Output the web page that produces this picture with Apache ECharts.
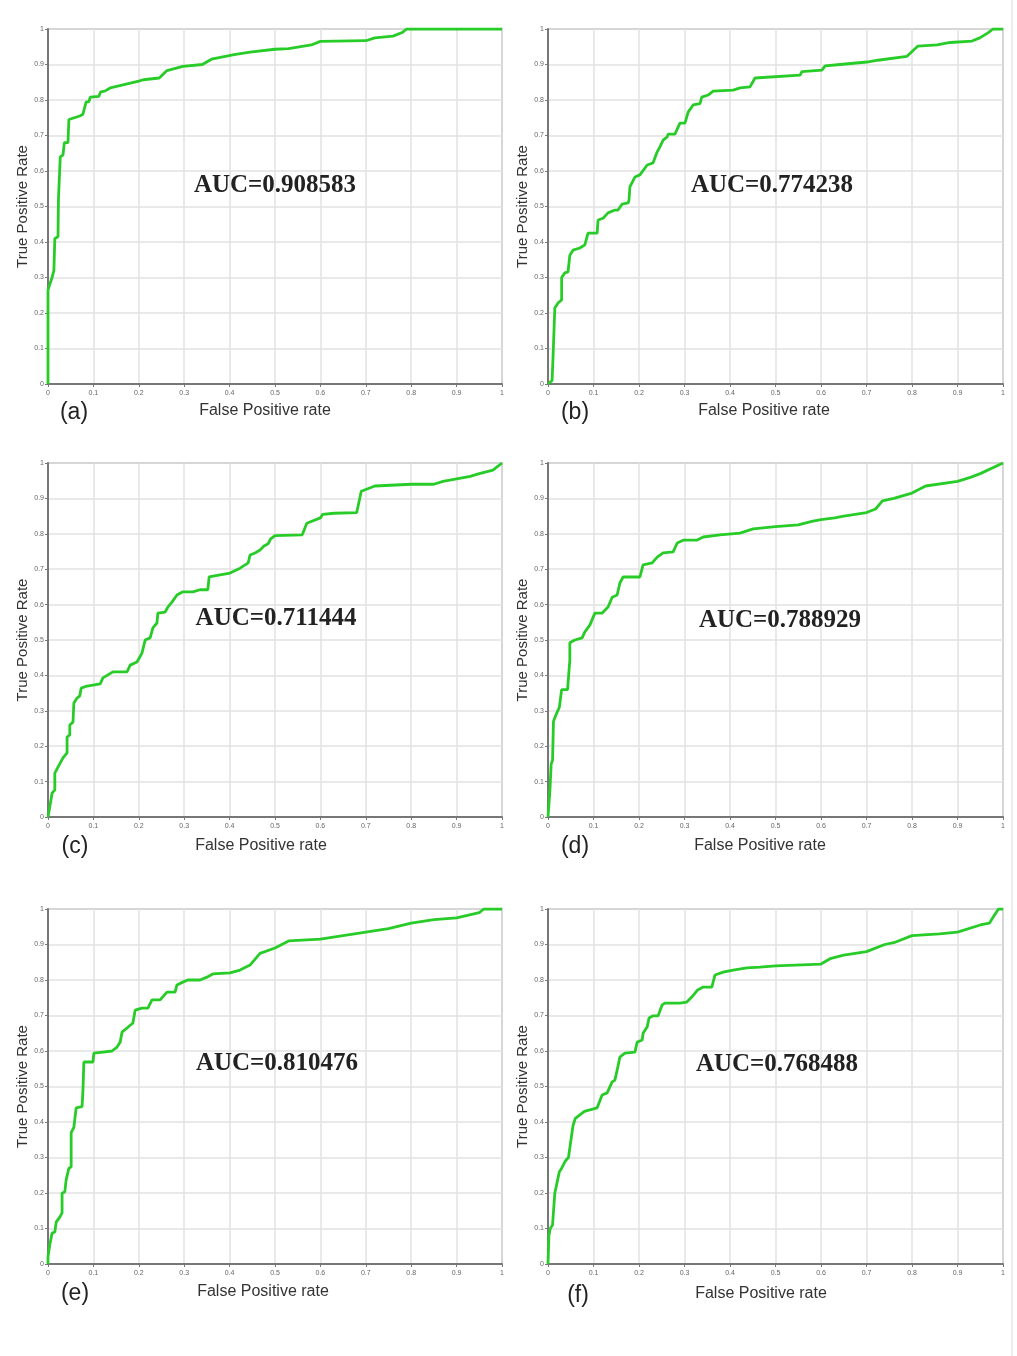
<!DOCTYPE html>
<html>
<head>
<meta charset="utf-8">
<script src="https://cdn.jsdelivr.net/npm/echarts@6/dist/echarts.min.js"></script>
<style>
  html, body { margin: 0; padding: 0; background: #fff; }
  #chart { width: 1017px; height: 1356px; }
</style>
</head>
<body>
<div id="chart"></div>
<script>
// ROC points [FPR, TPR]
var rocA = [[0,0],[0,0.265],[0.009,0.3],[0.013,0.32],[0.015,0.41],[0.022,0.415],[0.023,0.52],[0.026,0.52],[0.027,0.64],[0.033,0.645],[0.036,0.68],[0.044,0.68],[0.046,0.745],[0.07,0.755],[0.077,0.76],[0.084,0.795],[0.09,0.795],[0.093,0.808],[0.112,0.81],[0.116,0.823],[0.125,0.825],[0.137,0.834],[0.2,0.853],[0.21,0.857],[0.245,0.862],[0.262,0.883],[0.297,0.895],[0.34,0.9],[0.36,0.915],[0.41,0.928],[0.445,0.935],[0.5,0.943],[0.53,0.945],[0.58,0.955],[0.6,0.965],[0.7,0.967],[0.72,0.975],[0.76,0.98],[0.78,0.99],[0.79,1],[1,1]];
var rocB = [[0,0],[0.009,0.01],[0.011,0.073],[0.015,0.076],[0.015,0.214],[0.022,0.228],[0.03,0.237],[0.03,0.3],[0.037,0.313],[0.044,0.316],[0.048,0.363],[0.055,0.377],[0.07,0.383],[0.081,0.392],[0.088,0.425],[0.108,0.425],[0.11,0.462],[0.121,0.467],[0.132,0.482],[0.147,0.49],[0.154,0.49],[0.163,0.507],[0.176,0.51],[0.178,0.518],[0.18,0.555],[0.191,0.583],[0.202,0.589],[0.218,0.617],[0.231,0.623],[0.24,0.654],[0.246,0.668],[0.253,0.687],[0.262,0.696],[0.264,0.704],[0.279,0.704],[0.29,0.735],[0.301,0.735],[0.308,0.766],[0.319,0.786],[0.334,0.79],[0.338,0.808],[0.352,0.814],[0.363,0.825],[0.407,0.828],[0.422,0.834],[0.444,0.837],[0.455,0.862],[0.554,0.87],[0.558,0.88],[0.602,0.884],[0.609,0.896],[0.642,0.9],[0.701,0.907],[0.725,0.912],[0.789,0.923],[0.813,0.952],[0.855,0.955],[0.884,0.962],[0.932,0.966],[0.949,0.975],[0.967,0.989],[0.978,1],[1,1]];
var rocC = [[0,0],[0.004,0.028],[0.009,0.068],[0.015,0.076],[0.015,0.124],[0.022,0.141],[0.033,0.167],[0.042,0.181],[0.042,0.226],[0.048,0.232],[0.048,0.26],[0.055,0.268],[0.057,0.322],[0.064,0.336],[0.07,0.342],[0.073,0.364],[0.086,0.37],[0.115,0.376],[0.121,0.393],[0.143,0.41],[0.174,0.41],[0.181,0.429],[0.196,0.438],[0.207,0.463],[0.214,0.5],[0.225,0.506],[0.231,0.534],[0.24,0.548],[0.242,0.576],[0.258,0.579],[0.264,0.593],[0.273,0.607],[0.284,0.627],[0.297,0.636],[0.319,0.636],[0.335,0.642],[0.352,0.642],[0.355,0.678],[0.379,0.684],[0.401,0.689],[0.423,0.703],[0.441,0.718],[0.445,0.74],[0.456,0.746],[0.467,0.754],[0.475,0.765],[0.485,0.772],[0.49,0.785],[0.5,0.795],[0.56,0.797],[0.57,0.83],[0.6,0.845],[0.605,0.855],[0.63,0.858],[0.68,0.86],[0.69,0.92],[0.7,0.925],[0.72,0.935],[0.8,0.94],[0.85,0.94],[0.87,0.948],[0.9,0.955],[0.93,0.962],[0.95,0.97],[0.98,0.98],[1,1]];
var rocD = [[0,0],[0.004,0.07],[0.007,0.15],[0.01,0.16],[0.012,0.27],[0.018,0.29],[0.025,0.31],[0.03,0.36],[0.043,0.36],[0.048,0.444],[0.048,0.492],[0.059,0.5],[0.075,0.506],[0.081,0.523],[0.092,0.542],[0.103,0.576],[0.119,0.576],[0.132,0.593],[0.141,0.621],[0.152,0.627],[0.158,0.661],[0.165,0.678],[0.202,0.678],[0.209,0.712],[0.229,0.718],[0.24,0.734],[0.253,0.746],[0.275,0.749],[0.284,0.774],[0.297,0.782],[0.327,0.782],[0.341,0.791],[0.378,0.797],[0.422,0.802],[0.451,0.814],[0.5,0.82],[0.55,0.825],[0.58,0.835],[0.6,0.84],[0.63,0.845],[0.65,0.85],[0.7,0.86],[0.72,0.87],[0.735,0.893],[0.76,0.9],[0.8,0.915],[0.83,0.935],[0.9,0.948],[0.93,0.96],[0.95,0.97],[1,1]];
var rocE = [[0,0],[0,0.02],[0.004,0.054],[0.009,0.087],[0.015,0.09],[0.018,0.118],[0.026,0.132],[0.031,0.144],[0.031,0.2],[0.037,0.203],[0.04,0.237],[0.044,0.242],[0.046,0.27],[0.051,0.273],[0.051,0.37],[0.057,0.385],[0.062,0.44],[0.075,0.443],[0.077,0.49],[0.079,0.569],[0.099,0.569],[0.101,0.594],[0.121,0.597],[0.141,0.6],[0.152,0.611],[0.159,0.625],[0.163,0.653],[0.176,0.667],[0.187,0.679],[0.192,0.715],[0.207,0.721],[0.22,0.721],[0.229,0.744],[0.247,0.744],[0.262,0.766],[0.28,0.766],[0.284,0.786],[0.297,0.794],[0.308,0.8],[0.335,0.8],[0.35,0.808],[0.363,0.817],[0.401,0.82],[0.423,0.828],[0.445,0.842],[0.467,0.875],[0.5,0.89],[0.53,0.91],[0.6,0.915],[0.65,0.925],[0.7,0.935],[0.75,0.945],[0.8,0.96],[0.85,0.97],[0.9,0.975],[0.95,0.99],[0.96,1],[1,1]];
var rocF = [[0,0],[0.002,0.08],[0.005,0.1],[0.01,0.11],[0.015,0.2],[0.02,0.23],[0.025,0.26],[0.03,0.27],[0.038,0.29],[0.045,0.3],[0.055,0.39],[0.06,0.41],[0.07,0.42],[0.08,0.43],[0.092,0.434],[0.108,0.44],[0.119,0.476],[0.13,0.482],[0.141,0.513],[0.147,0.518],[0.152,0.546],[0.158,0.583],[0.169,0.594],[0.191,0.597],[0.196,0.625],[0.207,0.631],[0.209,0.65],[0.218,0.668],[0.222,0.693],[0.231,0.699],[0.242,0.699],[0.251,0.73],[0.257,0.735],[0.29,0.735],[0.305,0.738],[0.316,0.752],[0.329,0.772],[0.341,0.78],[0.36,0.78],[0.367,0.814],[0.385,0.822],[0.407,0.828],[0.437,0.834],[0.466,0.836],[0.5,0.84],[0.6,0.845],[0.62,0.86],[0.65,0.87],[0.7,0.88],[0.74,0.9],[0.76,0.905],[0.8,0.925],[0.86,0.93],[0.9,0.935],[0.95,0.955],[0.97,0.96],[0.98,0.98],[0.99,1],[1,1]];

var aucText = ['AUC=0.908583','AUC=0.774238','AUC=0.711444','AUC=0.788929','AUC=0.810476','AUC=0.768488'];
var panelText = ['(a)','(b)','(c)','(d)','(e)','(f)'];
var tickLabels = ['0','0.1','0.2','0.3','0.4','0.5','0.6','0.7','0.8','0.9','1'];
var allRoc = [rocA, rocB, rocC, rocD, rocE, rocF];

// layout of the 6 panels
var boxes = [
    {left:48,  top:29,  width:454, height:355},
    {left:548, top:29,  width:455, height:355},
    {left:48,  top:463, width:454, height:354},
    {left:548, top:463, width:455, height:354},
    {left:48,  top:909, width:454, height:355},
    {left:548, top:909, width:455, height:355}
];
var aucPos = [[275,186],[772,186],[276,619],[780,621],[277,1064],[777,1065]];
var xNamePos = [[265,411],[764,411],[261,846],[760,846],[263,1292],[761,1294]];
var panelPos = [[74,413],[575,413],[75,847],[575,847],[75,1294],[578,1296]];

var grids = [], xAxes = [], yAxes = [], series = [], graphics = [];

function fmt(v){
    return tickLabels[Math.round(v*10)];
}

boxes.forEach(function(b, i){
    grids.push({
        left: b.left, top: b.top, width: b.width, height: b.height,
        show: true, borderColor: '#9a9a9a', borderWidth: 1.5, backgroundColor: '#fff'
    });
    var common = {
        gridIndex: i, type: 'value', min: 0, max: 1, interval: 0.1,
        axisLine: {show: true, lineStyle: {color: '#777', width: 2}},
        axisTick: {show: true, length: 3, lineStyle: {color: '#777'}},
        axisLabel: {fontSize: 7, color: '#666', fontFamily: 'Liberation Sans', formatter: fmt},
        splitLine: {show: true, lineStyle: {color: '#e2e2e2', width: 1.5}}
    };
    xAxes.push(Object.assign({}, common, {
        axisLabel: Object.assign({}, common.axisLabel, {margin: 6})
    }));
    yAxes.push(Object.assign({}, common, {
        name: 'True Positive Rate', nameLocation: 'middle', nameGap: 17,
        nameTextStyle: {fontSize: 15, color: '#333', fontFamily: 'Liberation Sans'},
        axisLabel: Object.assign({}, common.axisLabel, {margin: 4})
    }));
    series.push({
        type: 'line', xAxisIndex: i, yAxisIndex: i,
        data: allRoc[i], showSymbol: false, symbol: 'none',
        lineStyle: {color: '#28cc28', width: 2.8}
    });
    graphics.push({
        type: 'text', x: aucPos[i][0], y: aucPos[i][1], z: 10,
        style: {text: aucText[i], fill: '#222', font: 'bold 25px "Liberation Serif"', textAlign: 'center', textVerticalAlign: 'middle'}
    });
    graphics.push({
        type: 'text', x: xNamePos[i][0], y: xNamePos[i][1],
        style: {text: 'False Positive rate', fill: '#333', font: '16px "Liberation Sans"', textAlign: 'center', textVerticalAlign: 'middle'}
    });
    graphics.push({
        type: 'text', x: panelPos[i][0], y: panelPos[i][1],
        style: {text: panelText[i], fill: '#222', font: '23px "Liberation Sans"', textAlign: 'center', textVerticalAlign: 'middle'}
    });
});

// faint frame line on the right edge of the picture
graphics.push({
    type: 'line', shape: {x1: 1012, y1: 0, x2: 1012, y2: 1356},
    style: {stroke: '#e6e6e6', lineWidth: 1.5}
});

var myChart = echarts.init(document.getElementById('chart'));
myChart.setOption({
    animation: false,
    backgroundColor: '#fff',
    grid: grids,
    xAxis: xAxes,
    yAxis: yAxes,
    series: series,
    graphic: graphics
});
</script>
</body>
</html>
